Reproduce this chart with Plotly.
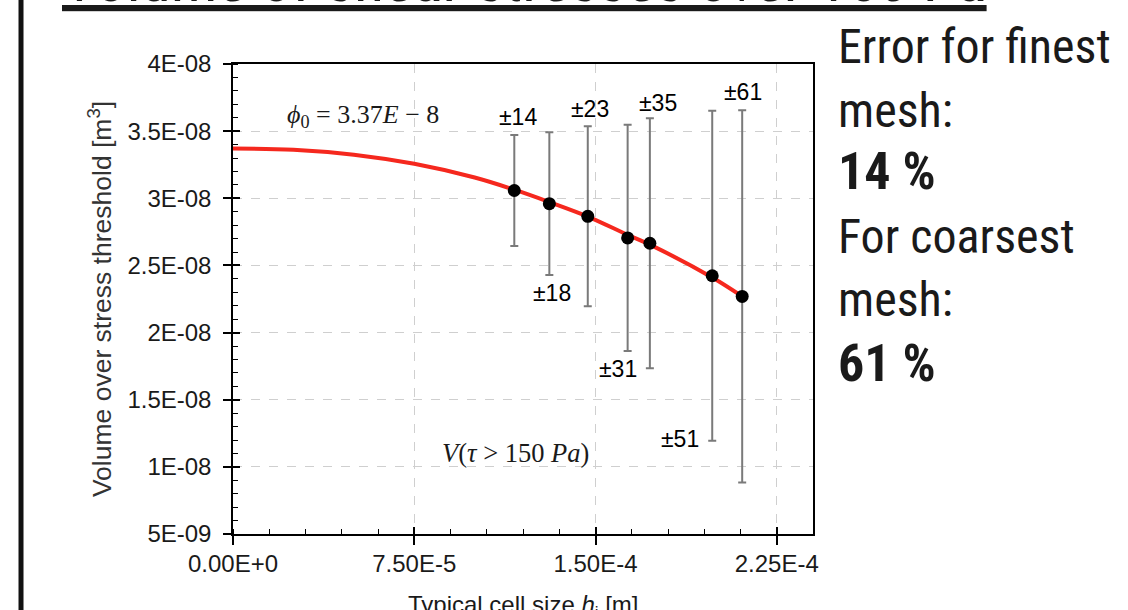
import plotly.graph_objects as go

# ---- data ----
h_points = [1.164e-4, 1.309e-4, 1.468e-4, 1.633e-4, 1.725e-4, 1.983e-4, 2.107e-4]
vol_points = [3.058e-8, 2.960e-8, 2.866e-8, 2.705e-8, 2.665e-8, 2.423e-8, 2.269e-8]
vol_err = [0.413e-8, 0.531e-8, 0.670e-8, 0.843e-8, 0.931e-8, 1.229e-8, 1.386e-8]
err_labels = ["±14", "±18", "±23", "±31", "±35", "±51", "±61"]

fit_h = [0.0, 0.25e-4, 0.5e-4, 0.75e-4, 1.0e-4, 1.164e-4, 1.309e-4, 1.468e-4,
         1.633e-4, 1.725e-4, 1.983e-4, 2.107e-4]
fit_vol = [3.370e-8, 3.362e-8, 3.325e-8, 3.257e-8, 3.155e-8, 3.064e-8, 2.972e-8,
           2.864e-8, 2.728e-8, 2.655e-8, 2.410e-8, 2.269e-8]

x_tickvals = [0.0, 7.5e-5, 1.5e-4, 2.25e-4]
x_ticktext = ["0.00E+0", "7.50E-5", "1.50E-4", "2.25E-4"]
y_tickvals = [5e-9, 1e-8, 1.5e-8, 2e-8, 2.5e-8, 3e-8, 3.5e-8, 4e-8]
y_ticktext = ["5E-09", "1E-08", "1.5E-08", "2E-08", "2.5E-08", "3E-08", "3.5E-08", "4E-08"]

side_lines = ["Error for finest", "mesh:", "<b>14 %</b>", "For coarsest", "mesh:", "<b>61 %</b>"]

X_RANGE = [0, 2.4e-4]
Y_RANGE = [5e-9, 4e-8]

SANS = "Liberation Sans, Arial, sans-serif"
NARROW = "Liberation Sans Narrow, Arial Narrow, Roboto Condensed, Liberation Sans, sans-serif"
SERIF = "Liberation Serif, Times New Roman, serif"

fig = go.Figure()

fig.add_trace(go.Scatter(
    x=fit_h, y=fit_vol, mode="lines", line=dict(color="#f5281e", width=4, shape="spline"),
    showlegend=False, hoverinfo="skip"))

fig.add_trace(go.Scatter(
    x=h_points, y=vol_points, mode="markers",
    marker=dict(color="black", size=13),
    error_y=dict(type="data", array=vol_err, visible=True, color="#7a7a7a", thickness=2, width=4),
    showlegend=False))

# overlay axes used only for the inner half of the major ticks
fig.add_trace(go.Scatter(x=[None], y=[None], xaxis="x2", yaxis="y2", showlegend=False))

tick_font = dict(family=SANS, size=24, color="#1a1a1a")

fig.update_layout(
    width=1128, height=610,
    margin=dict(l=233, r=315, t=64, b=76, autoexpand=False),
    paper_bgcolor="white", plot_bgcolor="white",
    xaxis=dict(
        range=X_RANGE, tickvals=x_tickvals, ticktext=x_ticktext,
        ticks="outside", ticklen=9, tickwidth=1.5, tickcolor="black",
        minor=dict(ticks="inside", dtick=1.5e-5, tick0=0, ticklen=5, tickwidth=1.2,
                   tickcolor="black", showgrid=False),
        showline=True, linecolor="black", linewidth=1.5, mirror=True,
        showgrid=True, gridcolor="#cfcfcf", gridwidth=1, griddash="dash",
        zeroline=False, tickfont=tick_font, ticklabelstandoff=-2, automargin=False,
    ),
    yaxis=dict(
        range=Y_RANGE, tickvals=y_tickvals, ticktext=y_ticktext,
        ticks="outside", ticklen=8, tickwidth=1.5, tickcolor="black",
        minor=dict(ticks="inside", dtick=1e-9, tick0=0, ticklen=5, tickwidth=1.2,
                   tickcolor="black", showgrid=False),
        showline=True, linecolor="black", linewidth=1.5, mirror=True,
        showgrid=True, gridcolor="#cfcfcf", gridwidth=1, griddash="dash",
        zeroline=False, tickfont=tick_font, ticklabelstandoff=7, automargin=False,
        title=dict(text="Volume over stress threshold [m<sup>3</sup>]",
                   font=dict(family=SANS, size=26.5, color="#333333"), standoff=8),
    ),
    xaxis2=dict(overlaying="x", anchor="y2", range=X_RANGE, tickvals=x_tickvals,
                ticks="inside", ticklen=7, tickwidth=1.5, tickcolor="black",
                showticklabels=False, showgrid=False, showline=False, zeroline=False),
    yaxis2=dict(overlaying="y", anchor="x2", range=Y_RANGE, tickvals=y_tickvals,
                ticks="inside", ticklen=7, tickwidth=1.5, tickcolor="black",
                showticklabels=False, showgrid=False, showline=False, zeroline=False),
)

# x-axis title (cropped by the bottom edge in the reference)
fig.add_annotation(x=0.5, y=-0.1160, xref="paper", yref="paper", xanchor="center",
                   yanchor="top", showarrow=False,
                   text="Typical cell size <i>h</i><sub>i</sub> [m]",
                   font=dict(family=SANS, size=24, color="#1a1a1a"))

# error-percentage labels (positions in data coords)
label_pos = [
    (1.180e-4, 3.607e-8), (1.319e-4, 2.297e-8), (1.477e-4, 3.663e-8),
    (1.594e-4, 1.726e-8), (1.757e-4, 3.707e-8), (1.849e-4, 1.205e-8),
    (2.111e-4, 3.794e-8),
]
for txt, (lx, ly) in zip(err_labels, label_pos):
    fig.add_annotation(x=lx, y=ly, xref="x", yref="y", text=txt, showarrow=False,
                       font=dict(family=SANS, size=23, color="black"))

fig.add_annotation(x=0.536e-4, y=3.613e-8, xref="x", yref="y", showarrow=False,
                   text="<i>ϕ</i><sub>0</sub> = 3.37<i>E</i> − 8",
                   font=dict(family=SERIF, size=26, color="#1a1a1a"))
fig.add_annotation(x=1.171e-4, y=1.103e-8, xref="x", yref="y", showarrow=False,
                   text="<i>V</i>(<i>τ</i> > 150 <i>Pa</i>)",
                   font=dict(family=SERIF, size=26.5, color="#1a1a1a"))

# slide text on the right
side_y = [1.0372, 0.9021, 0.7713, 0.6340, 0.4979, 0.3628]
for txt, yy in zip(side_lines, side_y):
    size = 52 if txt.startswith("<b>") else 48
    fig.add_annotation(x=1.0397, y=yy, xref="paper", yref="paper", xanchor="left",
                       yanchor="middle", text=txt, showarrow=False,
                       font=dict(family=NARROW, size=size, color="#1a1a1a"))

# slide title (cropped at the top), underlined
fig.add_annotation(x=-0.2990, y=1.180, xref="paper", yref="paper", xanchor="left",
                   yanchor="middle", showarrow=False,
                   text="<u>Volume of shear stresses over 150 Pa</u>",
                   font=dict(family=NARROW, size=62, color="#1a1a1a"))

# slide left border
fig.add_shape(type="line", xref="paper", yref="paper", x0=-0.3655, x1=-0.3655,
              y0=-0.25, y1=1.25, line=dict(color="#111111", width=5))

fig.write_html("out.html")
